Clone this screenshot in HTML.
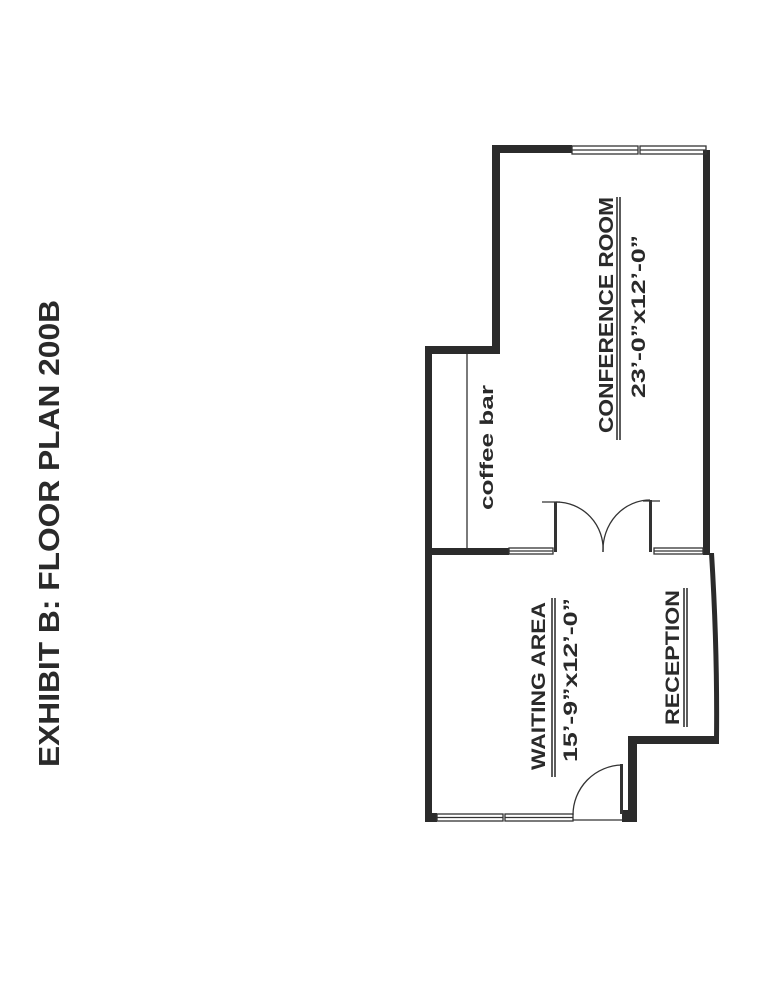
<!DOCTYPE html>
<html><head><meta charset="utf-8"><style>
html,body{margin:0;padding:0;background:#fff;}
svg{display:block;}
text{font-family:"Liberation Sans",Arial,sans-serif;font-weight:bold;fill:#2a2a2a;}
</style></head><body>
<svg width="779" height="1008" viewBox="0 0 779 1008" xmlns="http://www.w3.org/2000/svg">
<rect width="779" height="1008" fill="#fff"/>
<!-- title -->
<text transform="translate(59,767) rotate(-90)" font-size="29" textLength="467" lengthAdjust="spacingAndGlyphs" fill="#333">EXHIBIT B: FLOOR PLAN 200B</text>

<g fill="#2b2b2b">
<rect x="492" y="145" width="80" height="8"/>
<rect x="492" y="145" width="8" height="209"/>
<rect x="425" y="346" width="75" height="8"/>
<rect x="425" y="346" width="7" height="476"/>
<rect x="703" y="150" width="7" height="405"/>
<rect x="425" y="548" width="84" height="7"/>
<path d="M709,553 L714,553 Q720,650 719,740 L714,740 Q715,650 709,553 Z"/>
<rect x="628" y="736" width="91" height="8"/>
<rect x="628" y="736" width="9" height="86"/>
<rect x="622" y="810" width="15" height="12"/>
<rect x="425" y="813" width="12" height="9"/>
</g>

<g fill="none" stroke="#333" stroke-width="1.3">
<rect x="572" y="146" width="66" height="8"/>
<line x1="572" y1="150" x2="638" y2="150"/>
<rect x="640" y="146" width="66" height="8"/>
<line x1="640" y1="150" x2="706" y2="150"/>
<rect x="509" y="548" width="44" height="6"/>
<line x1="509" y1="551" x2="553" y2="551"/>
<rect x="654" y="548" width="49" height="6"/>
<line x1="654" y1="551" x2="703" y2="551"/>
<rect x="437" y="814" width="66" height="7"/>
<line x1="437" y1="817.5" x2="503" y2="817.5"/>
<rect x="505" y="814" width="68" height="7"/>
<line x1="505" y1="817.5" x2="573" y2="817.5"/>
<line x1="573" y1="820" x2="622" y2="820"/>
<line x1="467" y1="354" x2="467" y2="548"/>
<line x1="542" y1="502" x2="560" y2="502"/>
<line x1="643" y1="501" x2="660" y2="501"/>
<path d="M556,502 A47,47 0 0 1 603,552"/>
<path d="M650,500 A47,50 0 0 0 603,552"/>
<path d="M622,765 A50,50 0 0 0 573,815"/>
</g>
<g fill="#333">
<rect x="554" y="502" width="3" height="50"/>
<rect x="649" y="500" width="3" height="52"/>
<rect x="620" y="764" width="3" height="50"/>
</g>

<g stroke="#333" stroke-width="1.6">
<line x1="617" y1="197" x2="617" y2="440"/>
<line x1="620" y1="197" x2="620" y2="440"/>
<line x1="552" y1="598" x2="552" y2="777"/>
<line x1="555" y1="598" x2="555" y2="777"/>
<line x1="684" y1="588" x2="684" y2="727"/>
<line x1="687" y1="588" x2="687" y2="727"/>
</g>

<text transform="translate(613,433) rotate(-90)" font-size="20" textLength="236" lengthAdjust="spacingAndGlyphs">CONFERENCE ROOM</text>
<text transform="translate(645,398) rotate(-90)" font-size="19" textLength="163" lengthAdjust="spacingAndGlyphs">23’-0”x12’-0”</text>
<text transform="translate(493,510) rotate(-90)" font-size="18" textLength="125" lengthAdjust="spacingAndGlyphs">coffee bar</text>
<text transform="translate(545,770) rotate(-90)" font-size="19" textLength="168" lengthAdjust="spacingAndGlyphs">WAITING AREA</text>
<text transform="translate(577,762) rotate(-90)" font-size="19" textLength="164" lengthAdjust="spacingAndGlyphs">15’-9”x12’-0”</text>
<text transform="translate(679,725) rotate(-90)" font-size="19" textLength="135" lengthAdjust="spacingAndGlyphs">RECEPTION</text>
</svg>
</body></html>
